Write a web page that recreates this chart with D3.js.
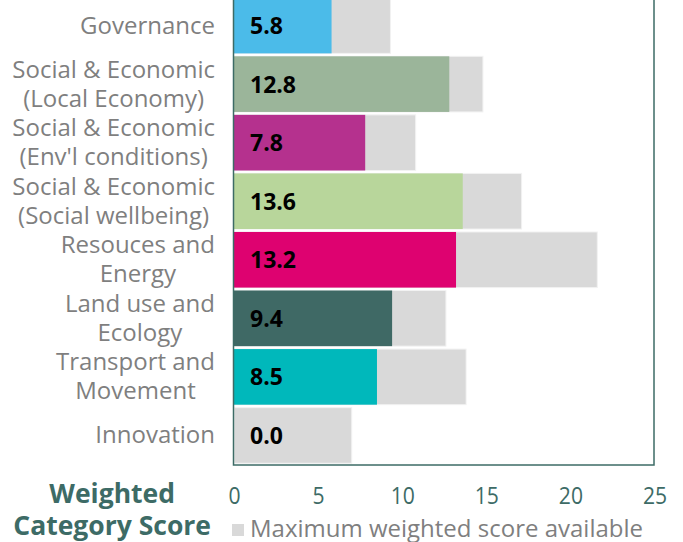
<!DOCTYPE html>
<html>
<head>
<meta charset="utf-8">
<script src="https://cdn.jsdelivr.net/npm/d3@7"></script>
<style>
  body { margin: 0; background: #fff; }
  svg { display: block; font-family: "Open Sans", sans-serif; }
</style>
</head>
<body>
<svg id="chart" width="683" height="542"></svg>
<script>
// category labels (each entry is the lines of the label)
const categories = [
    ['Governance'],
    ['Social & Economic', '(Local Economy)'],
    ['Social & Economic', "(Env'l conditions)"],
    ['Social & Economic', '(Social wellbeing)'],
    ['Resouces and', 'Energy'],
    ['Land use and', 'Ecology'],
    ['Transport and', 'Movement'],
    ['Innovation']
];
const scores = [5.8, 12.8, 7.8, 13.6, 13.2, 9.4, 8.5, 0.0];
const maxScores = [9.3, 14.8, 10.8, 17.1, 21.6, 12.6, 13.8, 7.0];
const barColors = ['#4bbbe9', '#9bb59a', '#b5318e', '#b8d69b', '#de0270', '#3f6965', '#00b8bb', '#d9d9d9'];
const xTicks = [0, 5, 10, 15, 20, 25];

const svg = d3.select('#chart');
const teal = '#3d6b66';
const grey = '#7f7f7f';

const x = d3.scaleLinear().domain([0, 25]).range([234, 654.5]);
const y = d3.scaleBand()
    .domain(d3.range(categories.length))
    .range([-4, 465])
    .paddingInner(0.05)
    .paddingOuter(0.03);

// max bars (grey)
svg.append('g').selectAll('rect')
    .data(maxScores)
    .join('rect')
    .attr('x', x(0))
    .attr('y', (d, i) => y(i))
    .attr('width', d => x(d) - x(0))
    .attr('height', y.bandwidth())
    .attr('fill', '#d9d9d9')
    .attr('stroke', '#f2f2f2')
    .attr('stroke-width', 1);

// score bars
svg.append('g').selectAll('rect')
    .data(scores)
    .join('rect')
    .attr('x', x(0))
    .attr('y', (d, i) => y(i))
    .attr('width', d => x(d) - x(0))
    .attr('height', y.bandwidth())
    .attr('fill', (d, i) => barColors[i]);

// value labels
svg.append('g').selectAll('text')
    .data(scores)
    .join('text')
    .attr('x', 250)
    .attr('y', (d, i) => y(i) + y.bandwidth() / 2 + 8.5)
    .attr('font-size', 23)
    .attr('font-weight', 700)
    .attr('fill', '#000')
    .text(d => d.toFixed(1));

// frame
svg.append('rect')
    .attr('x', 233.5)
    .attr('y', -10)
    .attr('width', 654 - 233.5)
    .attr('height', 465 + 10)
    .attr('fill', 'none')
    .attr('stroke', teal)
    .attr('stroke-width', 1.5);

// category labels: block right-aligned at 215, lines centred within it
const lh = 29;
svg.append('g').selectAll('text')
    .data(categories)
    .join('text')
    .attr('text-anchor', 'middle')
    .attr('font-size', 24)
    .attr('fill', grey)
    .each(function (lines, i) {
        const t = d3.select(this);
        const cy = y(i) + y.bandwidth() / 2;
        const y0 = cy - (lines.length - 1) * lh / 2 + 8;
        const spans = t.selectAll('tspan')
            .data(lines)
            .join('tspan')
            .attr('y', (d, j) => y0 + j * lh)
            .text(d => d);
        const maxW = d3.max(spans.nodes(), n => n.getComputedTextLength());
        spans.attr('x', 215 - maxW / 2);
    });

// x axis tick labels
const axis = svg.append('g')
    .attr('transform', 'translate(0, 465)')
    .call(d3.axisBottom(x).tickValues(xTicks).tickSize(0).tickPadding(0));
axis.select('.domain').remove();
axis.selectAll('text')
    .attr('y', 39)
    .attr('dy', 0)
    .attr('font-size', 24)
    .attr('font-family', '"Open Sans", sans-serif')
    .attr('fill', teal)
    .attr('transform', 'scale(0.88, 1)');

// axis title
svg.append('text')
    .attr('text-anchor', 'end')
    .attr('font-size', 26.5)
    .attr('font-weight', 700)
    .attr('fill', teal)
    .selectAll('tspan')
    .data([['Weighted', 175, 503], ['Category Score', 211, 535]])
    .join('tspan')
    .attr('x', d => d[1])
    .attr('y', d => d[2])
    .text(d => d[0]);

// legend
svg.append('rect')
    .attr('x', 232)
    .attr('y', 524)
    .attr('width', 12)
    .attr('height', 12)
    .attr('fill', '#d9d9d9');
svg.append('text')
    .attr('x', 250)
    .attr('y', 537)
    .attr('font-size', 24)
    .attr('fill', grey)
    .text('Maximum weighted score available');
</script>
</body>
</html>
